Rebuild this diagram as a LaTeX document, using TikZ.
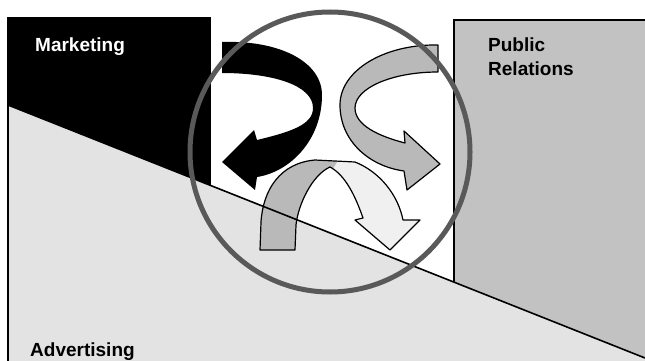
\documentclass[tikz,border=0pt]{standalone}
\usepackage{fontspec}
\setmainfont{Liberation Sans}
\begin{document}
\begin{tikzpicture}[x=1pt,y=-1pt,
  lbl/.style={font=\fontsize{19}{24}\selectfont\bfseries, inner sep=0pt, anchor=base west},
  advfill/.style={fill=gray!22},
  prfill/.style={fill=gray!48},
  edge/.style={draw=black, line width=1.3pt},
  outl/.style={draw=black, line width=1.2pt, line join=round},
  ring/.style={draw=gray!70!black, line width=5pt}]
\useasboundingbox (0,0) rectangle (645,361);
\fill[white] (0,0) rectangle (645,361);
\coordinate (d1) at (8,105);
\coordinate (d2) at (645,358);
% Advertising region (below the diagonal)
\path[advfill] (d1) -- (d2) -- (645,361) -- (8,361) -- cycle;
% Public Relations region
\path[prfill] (454,20) -- (645,20) -- (d2) -- (454,282) -- cycle;
\draw[edge] (454,282) -- (454,20) -- (645,20);
% Marketing region
\fill[black] (8,18) -- (210,18) -- (210,185) -- (d1) -- cycle;
\draw[edge] (8,361) -- (8,18) -- (210,18) -- (210,185);
% black curved arrow
\fill[black] (222,42) .. controls (280,40) and (322,62) .. (322,95)
  .. controls (322,140) and (290,172) .. (257,177) -- (255,190) -- (222,162)
  -- (254,130) -- (257,140) .. controls (290,132) and (313,125) .. (313,108)
  .. controls (313,85) and (272,73) .. (222,73) -- cycle;
% grey curved arrow
\path[outl, fill=gray!55] (438,45) .. controls (385,44) and (340,70) .. (340,105)
  .. controls (340,140) and (368,166) .. (404,171) -- (407,190) -- (440,164)
  -- (404,131) -- (405,143) .. controls (378,136) and (355,125) .. (355,108)
  .. controls (355,88) and (392,72) .. (438,72) -- cycle;
% lower arch arrow
\def\archpath{(260,250) -- (261,222) .. controls (263,190) and (280,163) .. (315,160)
  -- (355,162) .. controls (380,172) and (398,195) .. (403,220) -- (420,220)
  -- (390,250) -- (355,220) -- (363,218) .. controls (355,195) and (345,175) .. (330,167)
  .. controls (312,175) and (298,205) .. (296,225) -- (295,250) -- cycle}
\fill[gray!12] \archpath;
\begin{scope}
  \clip (250,150) -- (345,150) -- (332,170) -- (300,260) -- (250,260) -- cycle;
  \fill[gray!55] \archpath;
\end{scope}
\draw[outl] \archpath;
% diagonal divider
\draw[black, line width=1.6pt] (d1) -- (d2);
% ring
\draw[ring] (330,152) circle [radius=140pt];
% labels
\node[lbl, text=white] (mkt) at (35,52) {Marketing};
\node[lbl] (pub) at (488,52) {Public};
\node[lbl] (rel) at (488,76) {Relations};
\node[lbl] (adv) at (30,356) {Advertising};
\end{tikzpicture}
\end{document}
